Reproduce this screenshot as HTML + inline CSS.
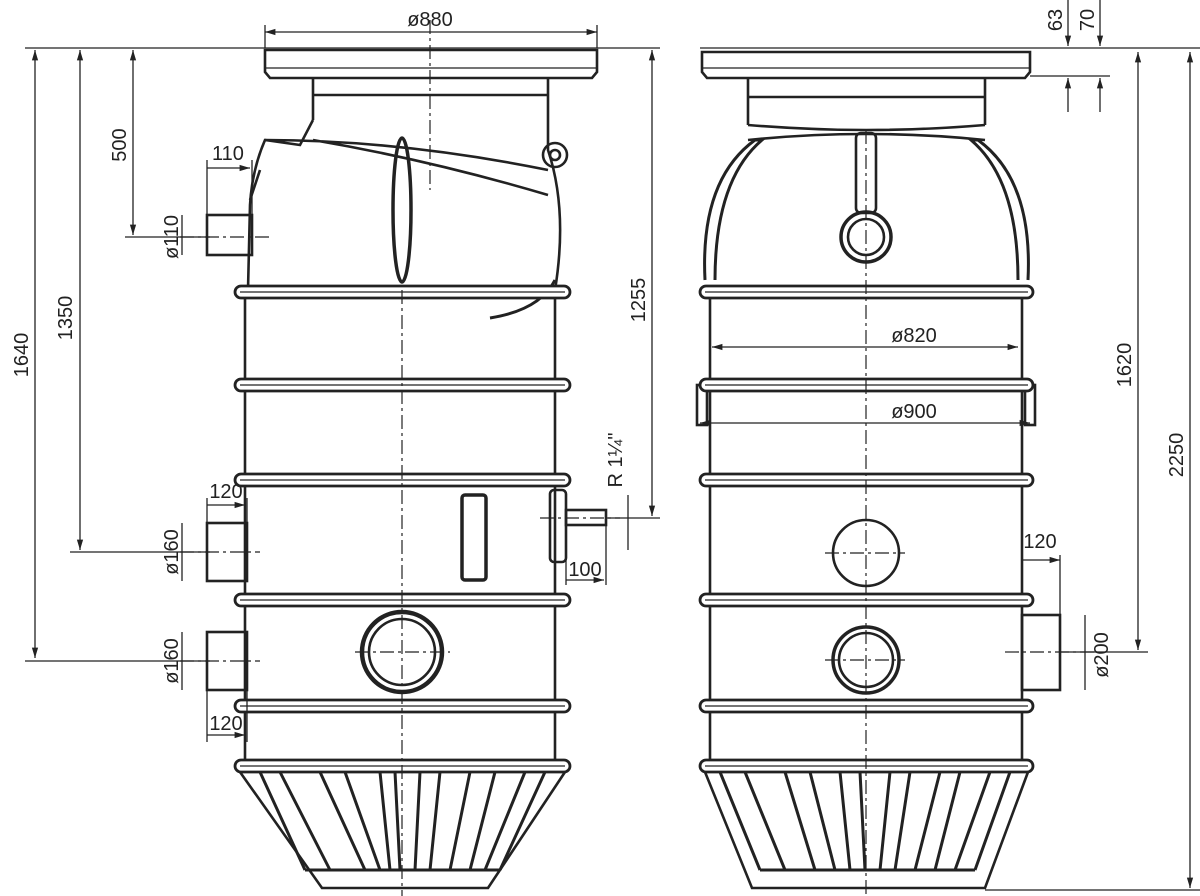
<!DOCTYPE html>
<html><head><meta charset="utf-8"><style>
html,body{margin:0;padding:0;background:#fff}
svg{display:block}
text{font-family:"Liberation Sans",sans-serif;font-size:20px;fill:#222}
</style></head><body>
<svg width="1200" height="896" viewBox="0 0 1200 896" xmlns="http://www.w3.org/2000/svg">
<defs>
<marker id="a" viewBox="0 0 10 10" refX="10" refY="5" markerWidth="8" markerHeight="8" orient="auto-start-reverse"><path d="M0,2 L10,5 L0,8 z" fill="#222"/></marker>
<g id="ribL"><rect x="235" y="-6" width="335" height="12" rx="6" fill="#fff" stroke="#222" stroke-width="2.8"/><line x1="240" y1="0" x2="565" y2="0" stroke="#222" stroke-width="1.2"/></g>
<g id="ribR"><rect x="700" y="-6" width="333" height="12" rx="6" fill="#fff" stroke="#222" stroke-width="2.8"/><line x1="705" y1="0" x2="1028" y2="0" stroke="#222" stroke-width="1.2"/></g>
</defs>
<g fill="none" stroke="#222" stroke-width="2.6">
<!-- LEFT TANK -->
<path d="M265,50 L597,50 L597,72 L592,78 L270,78 L265,72 Z" fill="#fff"/>
<line x1="265" y1="68" x2="597" y2="68" stroke-width="1.2"/>
<path d="M313,78 L313,120 M548,78 L548,120 M313,95 L548,95"/>
<path d="M313,120 L300,145 L265,140 Q252,170 250,205 L248,290 M548,120 L548,150 Q568,210 555,290"/>
<path d="M265,140 Q400,140 548,170 M313,140 Q430,160 548,195 M250,200 L260,170"/>
<circle cx="555" cy="155" r="12"/><circle cx="555" cy="155" r="5"/>
<ellipse cx="402" cy="210" rx="9" ry="72" stroke-width="3.5"/>
<path d="M555,280 Q540,310 490,318" stroke-width="3"/>
<line x1="245" y1="290" x2="245" y2="765"/><line x1="555" y1="290" x2="555" y2="765"/>
<rect x="207" y="215" width="45" height="40"/>
<rect x="207" y="523" width="40" height="58"/>
<rect x="207" y="632" width="40" height="58"/>
<rect x="550" y="490" width="16" height="72" rx="4"/>
<rect x="566" y="510" width="40" height="15"/>
<rect x="462" y="495" width="24" height="85" rx="3" stroke-width="3.5"/>
<circle cx="402" cy="652" r="40" stroke-width="4.5"/><circle cx="402" cy="652" r="33"/>
<path d="M240,772 L322,888 L488,888 L565,772"/>
<path d="M260,772 L305,870 M280,772 L330,870 M320,772 L365,870 M345,772 L380,870 M380,772 L390,870 M395,772 L400,870 M420,772 L415,870 M440,772 L430,870 M470,772 L450,870 M495,772 L470,870 M525,772 L485,870 M545,772 L500,870 M305,870 L500,870" stroke-width="3"/>
<!-- RIGHT TANK -->
<path d="M702,52 L1030,52 L1030,72 L1025,78 L707,78 L702,72 Z" fill="#fff"/>
<line x1="702" y1="68" x2="1030" y2="68" stroke-width="1.2"/>
<path d="M748,78 L748,125 M985,78 L985,125 M748,97 L985,97"/>
<path d="M748,125 Q866,135 985,125 M748,140 Q866,128 985,140"/>
<path d="M705,280 Q700,180 755,140 L762,140 Q715,180 715,280 M1028,280 Q1033,180 978,140 L971,140 Q1018,180 1018,280" stroke-width="3"/>
<rect x="856" y="133" width="20" height="80" rx="5"/>
<circle cx="866" cy="237" r="25" stroke-width="3.5"/><circle cx="866" cy="237" r="18"/>
<line x1="710" y1="290" x2="710" y2="765"/><line x1="1022" y1="290" x2="1022" y2="765"/>
<rect x="697" y="385" width="10" height="40"/><rect x="1025" y="385" width="10" height="40"/>
<circle cx="866" cy="553" r="33"/>
<circle cx="866" cy="660" r="33" stroke-width="3.5"/><circle cx="866" cy="660" r="27"/>
<rect x="1022" y="615" width="38" height="75"/>
<path d="M705,772 L752,888 L985,888 L1028,772"/>
<path d="M720,772 L760,870 M745,772 L785,870 M785,772 L815,870 M810,772 L835,870 M840,772 L850,870 M860,772 L865,870 M890,772 L880,870 M910,772 L895,870 M940,772 L915,870 M960,772 L935,870 M990,772 L955,870 M1010,772 L975,870 M760,870 L975,870" stroke-width="3"/>
</g>
<use href="#ribL" y="292"/><use href="#ribL" y="385"/><use href="#ribL" y="480"/><use href="#ribL" y="600"/><use href="#ribL" y="706"/><use href="#ribL" y="766"/>
<use href="#ribR" y="292"/><use href="#ribR" y="385"/><use href="#ribR" y="480"/><use href="#ribR" y="600"/><use href="#ribR" y="706"/><use href="#ribR" y="766"/>
<g stroke="#222" stroke-width="1.2" stroke-dasharray="14,4,3,4" fill="none">
<line x1="430" y1="20" x2="430" y2="190"/><line x1="402" y1="290" x2="402" y2="896"/>
<line x1="866" y1="130" x2="866" y2="896"/>
<line x1="180" y1="237" x2="270" y2="237"/><line x1="180" y1="552" x2="260" y2="552"/><line x1="180" y1="661" x2="260" y2="661"/>
<line x1="355" y1="652" x2="450" y2="652"/><line x1="540" y1="518" x2="620" y2="518"/>
<line x1="825" y1="553" x2="905" y2="553"/><line x1="825" y1="660" x2="905" y2="660"/><line x1="1005" y1="652" x2="1095" y2="652"/>
</g>
<g stroke="#222" stroke-width="1.3" fill="none">
<line x1="25" y1="48" x2="660" y2="48"/><line x1="700" y1="48" x2="1200" y2="48"/>
<line x1="1030" y1="76" x2="1110" y2="76"/>
<line x1="35" y1="50" x2="35" y2="658" marker-start="url(#a)" marker-end="url(#a)"/><line x1="25" y1="661" x2="210" y2="661"/>
<line x1="80" y1="50" x2="80" y2="550" marker-start="url(#a)" marker-end="url(#a)"/><line x1="70" y1="552" x2="210" y2="552"/>
<line x1="133" y1="50" x2="133" y2="235" marker-start="url(#a)" marker-end="url(#a)"/><line x1="125" y1="237" x2="210" y2="237"/>
<line x1="652" y1="50" x2="652" y2="516" marker-start="url(#a)" marker-end="url(#a)"/><line x1="606" y1="518" x2="660" y2="518"/>
<line x1="1138" y1="52" x2="1138" y2="650" marker-start="url(#a)" marker-end="url(#a)"/><line x1="1060" y1="652" x2="1148" y2="652"/>
<line x1="1190" y1="52" x2="1190" y2="888" marker-start="url(#a)" marker-end="url(#a)"/><line x1="985" y1="890" x2="1200" y2="890"/>
<line x1="265" y1="25" x2="265" y2="48"/><line x1="597" y1="25" x2="597" y2="48"/>
<line x1="265" y1="32" x2="597" y2="32" marker-start="url(#a)" marker-end="url(#a)"/>
<line x1="712" y1="347" x2="1018" y2="347" marker-start="url(#a)" marker-end="url(#a)"/>
<line x1="700" y1="423" x2="1030" y2="423" marker-start="url(#a)" marker-end="url(#a)"/>
<line x1="1068" y1="0" x2="1068" y2="46" marker-end="url(#a)"/><line x1="1068" y1="112" x2="1068" y2="78" marker-end="url(#a)"/>
<line x1="1100" y1="0" x2="1100" y2="46" marker-end="url(#a)"/><line x1="1100" y1="112" x2="1100" y2="78" marker-end="url(#a)"/>
<line x1="207" y1="160" x2="207" y2="215"/><line x1="252" y1="160" x2="252" y2="215"/><line x1="207" y1="168" x2="250" y2="168" marker-end="url(#a)"/>
<line x1="182" y1="215" x2="182" y2="255"/>
<line x1="207" y1="498" x2="207" y2="523"/><line x1="247" y1="498" x2="247" y2="523"/><line x1="207" y1="505" x2="245" y2="505" marker-end="url(#a)"/>
<line x1="182" y1="523" x2="182" y2="581"/><line x1="182" y1="632" x2="182" y2="690"/>
<line x1="207" y1="690" x2="207" y2="742"/><line x1="247" y1="690" x2="247" y2="742"/><line x1="207" y1="735" x2="245" y2="735" marker-end="url(#a)"/>
<line x1="566" y1="525" x2="566" y2="585"/><line x1="606" y1="525" x2="606" y2="585"/><line x1="566" y1="580" x2="604" y2="580" marker-end="url(#a)"/>
<line x1="628" y1="495" x2="628" y2="550"/>
<line x1="1022" y1="560" x2="1060" y2="560" marker-end="url(#a)"/><line x1="1060" y1="555" x2="1060" y2="615"/>
<line x1="1085" y1="615" x2="1085" y2="690"/>
</g>
<g>
<text x="430" y="26" text-anchor="middle">ø880</text>
<text x="228" y="160" text-anchor="middle">110</text>
<text x="226" y="498" text-anchor="middle">120</text>
<text x="226" y="730" text-anchor="middle">120</text>
<text x="585" y="576" text-anchor="middle">100</text>
<text x="1040" y="548" text-anchor="middle">120</text>
<text x="914" y="342" text-anchor="middle">ø820</text>
<text x="914" y="418" text-anchor="middle">ø900</text>
<text transform="translate(28,355) rotate(-90)" text-anchor="middle">1640</text>
<text transform="translate(72,318) rotate(-90)" text-anchor="middle">1350</text>
<text transform="translate(126,145) rotate(-90)" text-anchor="middle">500</text>
<text transform="translate(178,237) rotate(-90)" text-anchor="middle">ø110</text>
<text transform="translate(178,552) rotate(-90)" text-anchor="middle">ø160</text>
<text transform="translate(178,661) rotate(-90)" text-anchor="middle">ø160</text>
<text transform="translate(645,300) rotate(-90)" text-anchor="middle">1255</text>
<text transform="translate(622,460) rotate(-90)" text-anchor="middle">R 1¼"</text>
<text transform="translate(1131,365) rotate(-90)" text-anchor="middle">1620</text>
<text transform="translate(1183,455) rotate(-90)" text-anchor="middle">2250</text>
<text transform="translate(1062,20) rotate(-90)" text-anchor="middle">63</text>
<text transform="translate(1094,20) rotate(-90)" text-anchor="middle">70</text>
<text transform="translate(1108,655) rotate(-90)" text-anchor="middle">ø200</text>
</g>
</svg>
</body></html>
